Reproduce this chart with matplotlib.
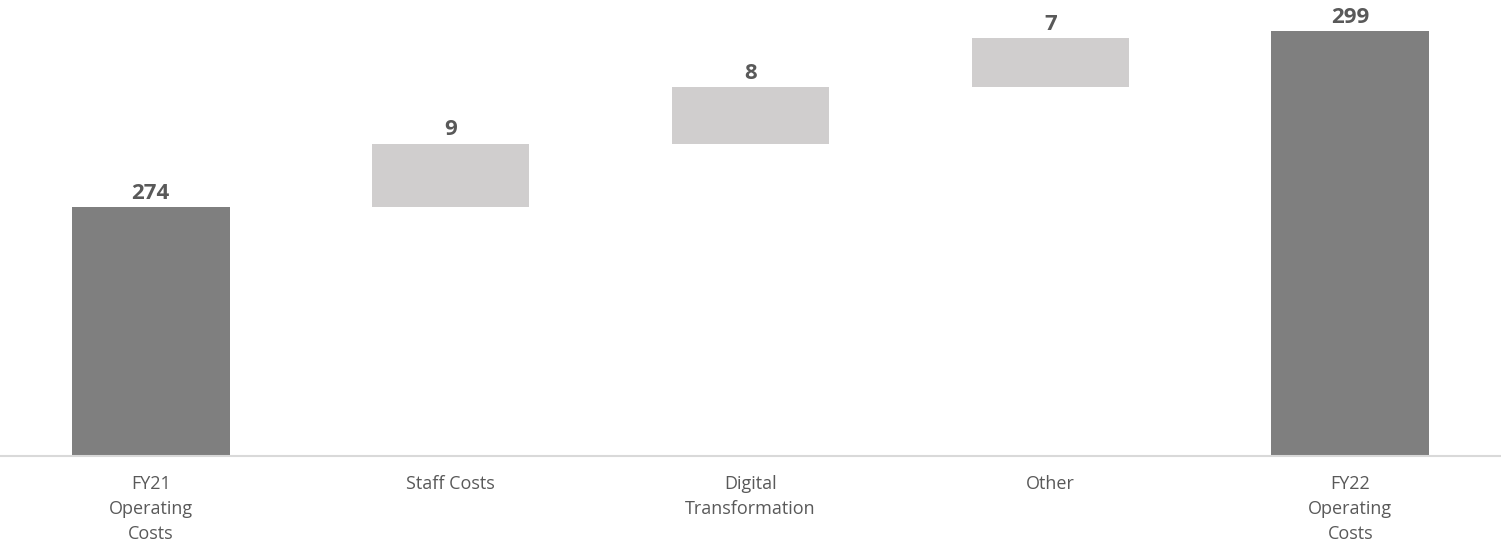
import matplotlib.pyplot as plt
import numpy as np

categories = ["FY21\nOperating\nCosts", "Staff Costs", "Digital\nTransformation", "Other", "FY22\nOperating\nCosts"]
values = [274, 9, 8, 7, 299]
is_total = [True, False, False, False, True]

plt.rcParams['font.family'] = ['Open Sans', 'DejaVu Sans']

# waterfall: totals start at zero, steps sit on the running sum
bottoms = []
running = 0
for v, tot in zip(values, is_total):
    if tot:
        bottoms.append(0)
        running = v
    else:
        bottoms.append(running)
        running += v
tops = [b + v for b, v in zip(bottoms, values)]
colors = ['#7f7f7f' if t else '#d0cece' for t in is_total]

fig = plt.figure(figsize=(15.01, 5.49), dpi=100)
ax = fig.add_axes([0.0005, (549 - 456) / 549, 0.999, 456 / 549])

x = np.arange(len(categories))
ax.bar(x, values, bottom=bottoms, width=0.526, color=colors, zorder=2)

for xi, top, v in zip(x, tops, values):
    ax.annotate(str(v), (xi, top), xytext=(0, 6), textcoords='offset points',
                ha='center', va='baseline', fontsize=16, fontweight='bold', color='#595959')

ax.set_xlim(-0.5, len(categories) - 0.5)
ax.set_ylim(238.7, 303.4)
ax.set_xticks(x)
ax.set_xticklabels(categories, fontsize=13, color='#595959', linespacing=1.5)
ax.tick_params(axis='x', length=0, pad=14)
ax.set_yticks([])
for s in ['top', 'left', 'right']:
    ax.spines[s].set_visible(False)
ax.spines['bottom'].set_color('#d9d9d9')
ax.spines['bottom'].set_linewidth(1.5)
ax.spines['bottom'].set_zorder(3)

fig.savefig('out.png', dpi=100)
